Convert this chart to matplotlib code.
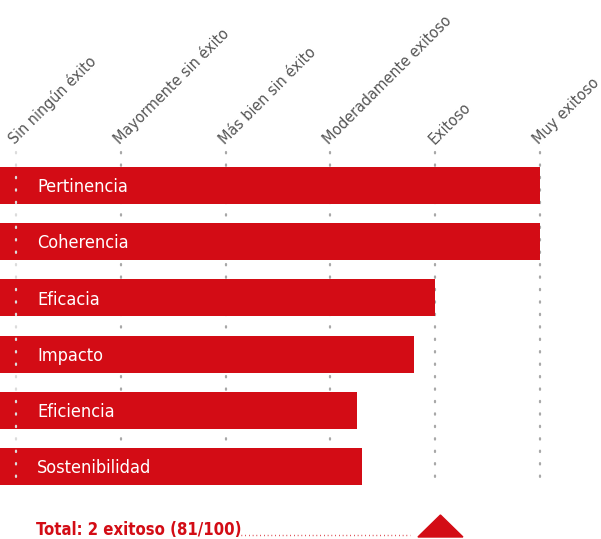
import matplotlib
matplotlib.use("Agg")
import matplotlib.pyplot as plt
from matplotlib.patches import Polygon

plt.rcParams['font.family'] = ['DejaVu Sans']
plt.rcParams['font.stretch'] = 'condensed'

# rating scale (0-100) and the criteria scores
scale_labels = ["Sin ningún éxito", "Mayormente sin éxito", "Más bien sin éxito",
                "Moderadamente exitoso", "Exitoso", "Muy exitoso"]
scale_values = [0, 20, 40, 60, 80, 100]
criteria = ["Pertinencia", "Coherencia", "Eficacia", "Impacto", "Eficiencia", "Sostenibilidad"]
scores = [100, 100, 80, 76, 65, 66]
total_score = 81
total_label = "Total: 2 exitoso (81/100)"

RED = "#d30c15"
GREY = "#a8a8a8"

W, H = 601, 539
fig = plt.figure(figsize=(W / 100, H / 100), dpi=100)
ax = fig.add_axes([0, 0, 1, 1])

# map pixels to data: 0 -> x=16px, 100 -> x=540px; row pitch 56.2px, first row centred at 185.5px
px_per_unit = (540 - 16) / 100
ax.set_xlim(-16 / px_per_unit, (W - 16) / px_per_unit)
row_pitch = 56.2
ax.set_ylim((H - 185.5) / row_pitch, -185.5 / row_pitch)
ax.axis("off")

rows = list(range(len(criteria)))
left = -16 / px_per_unit
ax.barh(rows, [s - left for s in scores], left=left, height=37 / row_pitch,
        color=RED, edgecolor="none", zorder=2)

for i, name in enumerate(criteria):
    ax.text(left + 37 / px_per_unit, i + 0.03, name, color="white", fontsize=13,
            ha="left", va="center", zorder=4)

# dotted scale lines
y_top = (152 - 185.5) / row_pitch
y_bot = (485 - 185.5) / row_pitch
for j, v in enumerate(scale_values):
    ax.vlines(v, y_top, y_bot, colors="#dcdcdc" if j == 0 else GREY,
              linestyles=(0, (0.6, 5.0)), linewidth=1.6,
              capstyle="round", zorder=3 if j == 0 else 1)
    ax.annotate(scale_labels[j], xy=(v, y_top), xytext=(-1, 7),
                textcoords="offset pixels", rotation=45, rotation_mode="anchor",
                ha="left", va="baseline", color="#555555", fontsize=11.5)

# total line with leader dots and marker
fig.text(36 / W, 1 - 535 / H, total_label, color=RED, fontsize=12,
         fontweight="bold", ha="left", va="baseline")
y_total = (535 - 185.5) / row_pitch
ax.hlines(y_total, (241 - 16) / px_per_unit, (410 - 16) / px_per_unit,
          colors=RED, linestyles=(0, (0.5, 2.2)), linewidth=1.0)
half_w = 22.5 / px_per_unit
tri = Polygon([(total_score - half_w, (537 - 185.5) / row_pitch),
               (total_score + half_w, (537 - 185.5) / row_pitch),
               (total_score, (515 - 185.5) / row_pitch)],
              closed=True, color=RED, zorder=2)
ax.add_patch(tri)

fig.savefig("out.png", dpi=100)
